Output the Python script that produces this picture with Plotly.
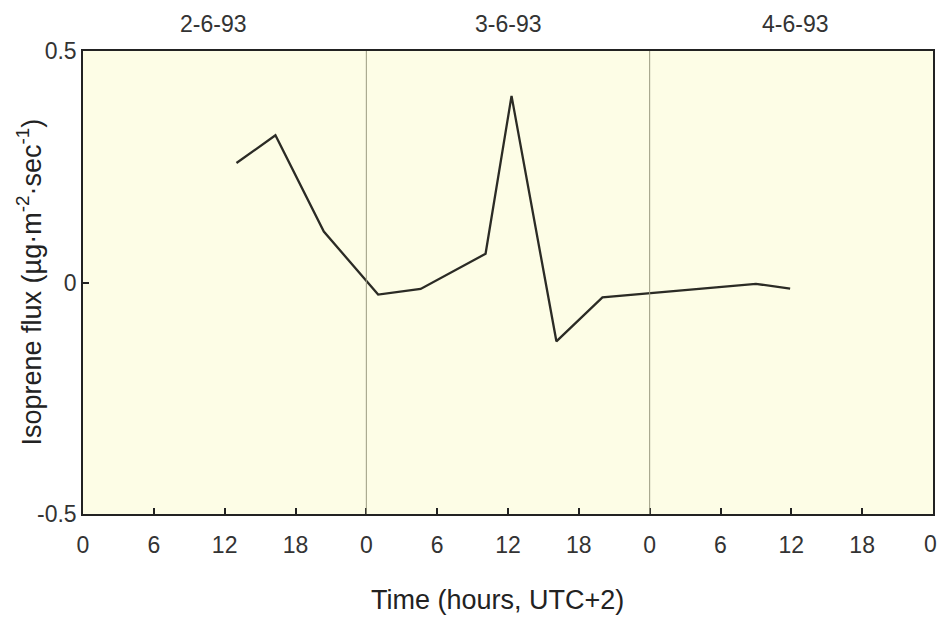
import plotly.graph_objects as go

hours = [13.0, 16.3, 20.4, 25.0, 28.6, 34.1, 36.3, 40.1, 44.0, 57.0, 59.9]
flux = [0.258, 0.318, 0.110, -0.026, -0.014, 0.062, 0.403, -0.127, -0.032, -0.003, -0.013]
tick_vals = [0, 6, 12, 18, 24, 30, 36, 42, 48, 54, 60, 66, 72]
tick_text = ["0", "6", "12", "18", "0", "6", "12", "18", "0", "6", "12", "18", "0"]
y_vals = [-0.5, 0, 0.5]
y_text = ["-0.5", "0", "0.5"]
day_labels = ["2-6-93", "3-6-93", "4-6-93"]
day_centers = [11, 36, 60.3]
day_bounds = [24, 48]

FONT = "Liberation Sans, Arial, Helvetica"
fig = go.Figure()
fig.add_trace(go.Scatter(x=hours, y=flux, mode="lines",
                         line=dict(color="#2b2b25", width=2.3), showlegend=False))

for b in day_bounds:
    fig.add_shape(type="line", x0=b, x1=b, y0=-0.5, y1=0.5, xref="x", yref="y",
                  line=dict(color="#9a9a80", width=1))

for lab, c in zip(day_labels, day_centers):
    fig.add_annotation(x=c, y=1.0, xref="x", yref="paper", yanchor="middle", yshift=27,
                       text=lab, showarrow=False,
                       font=dict(family=FONT, size=23, color="#333"))

# last tick label at 72 h (sits on the page edge)
fig.add_annotation(x=tick_vals[-1], y=0, xref="x", yref="paper", yanchor="middle",
                   yshift=-30, xshift=-3,
                   text=tick_text[-1], showarrow=False,
                   font=dict(family=FONT, size=23, color="#333"))

fig.add_annotation(x=0.488, y=-0.185, xref="paper", yref="paper", yanchor="middle",
                   text="Time (hours, UTC+2)", showarrow=False,
                   font=dict(family=FONT, size=27, color="#222"))
fig.add_annotation(x=-0.086, y=0.502, xref="paper", yref="paper", textangle=-90,
                   text="Isoprene flux (µg·m<sup>-2</sup>·sec<sup>-1</sup>)", showarrow=False,
                   font=dict(family=FONT, size=27, color="#222"))

fig.update_xaxes(range=[0, 72], tickvals=tick_vals[:-1], ticktext=tick_text[:-1],
                 ticks="inside", ticklen=6, tickwidth=1.5, tickcolor="#222",
                 ticklabelstandoff=10,
                 showline=True, linecolor="#222", linewidth=1.5, mirror=True,
                 showgrid=False, zeroline=False,
                 tickfont=dict(family=FONT, size=23, color="#333"))
fig.update_yaxes(range=[-0.5, 0.5], tickvals=y_vals, ticktext=y_text,
                 ticks="inside", ticklen=6, tickwidth=1.5, tickcolor="#222",
                 showline=True, linecolor="#222", linewidth=1.5, mirror=True,
                 showgrid=False, zeroline=False,
                 tickfont=dict(family=FONT, size=23, color="#333"))

fig.update_layout(width=938, height=617,
                  margin=dict(l=83, r=3, t=51, b=103),
                  plot_bgcolor="#fdfde6", paper_bgcolor="#ffffff")

fig.write_html("out.html")
